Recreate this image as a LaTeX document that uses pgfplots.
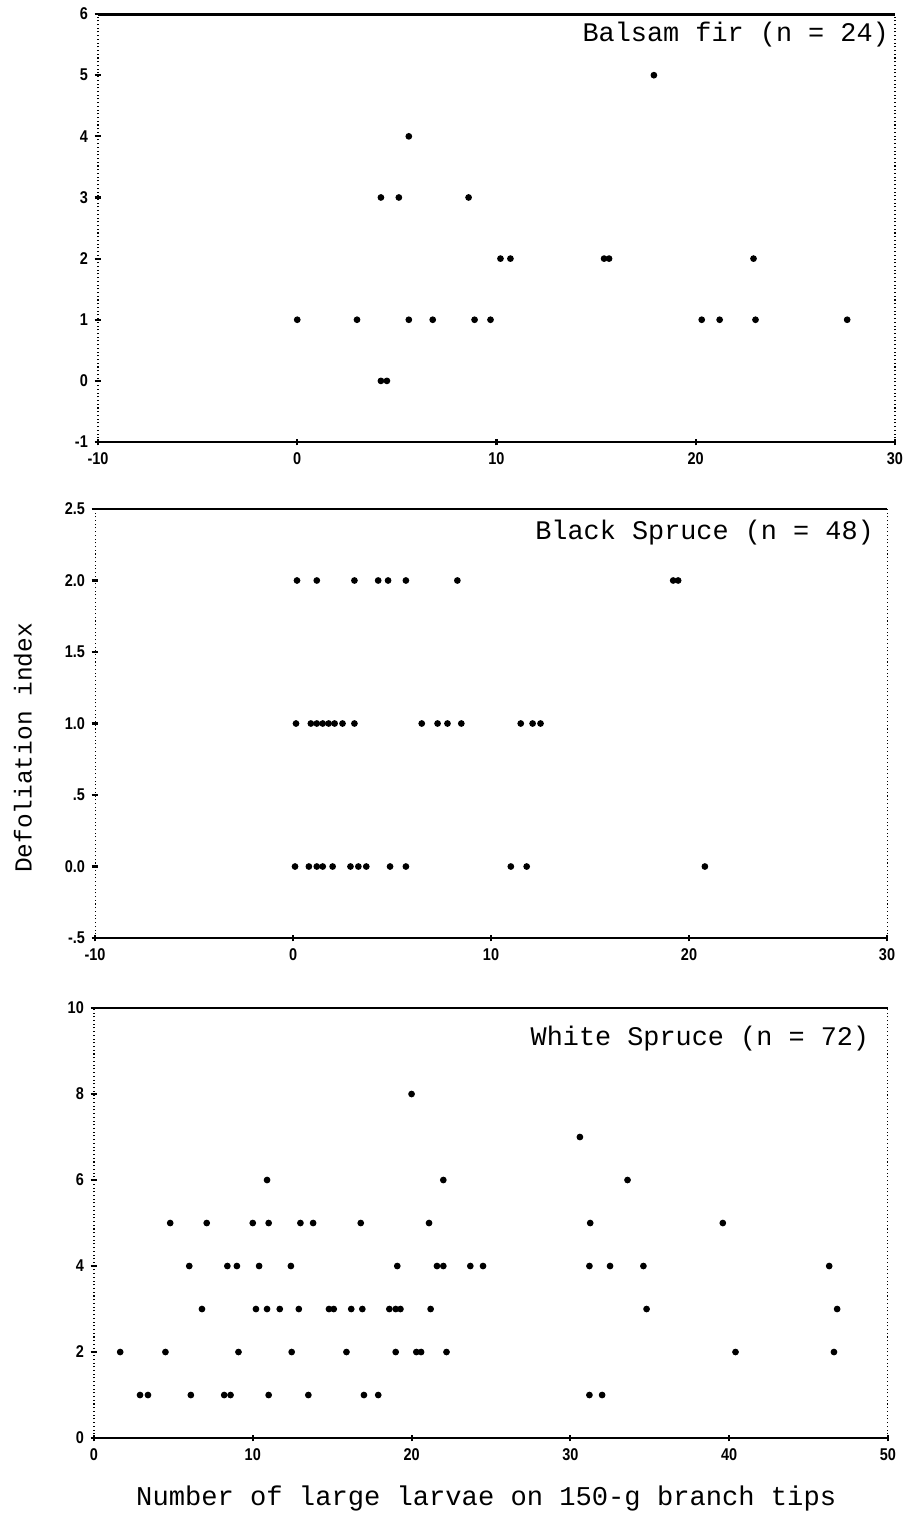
\documentclass[border=0pt]{standalone}
\usepackage{fontspec}
\setmainfont{Liberation Mono}
\newfontfamily\tickfont[FakeStretch=0.85]{Liberation Sans}
\usepackage{pgfplots}
\pgfplotsset{compat=1.18}

\pgfplotsset{
  panel/.style={
    scale only axis,
    anchor=south west,
    separate axis lines,
    x axis line style={line width=1.1pt},
    y axis line style={line width=0.4pt, densely dotted},
    tick pos=left,
    tick align=center,
    major tick length=0.09cm,
    every tick/.style={black, line width=0.8pt},
    tick label style={font=\tickfont\bfseries\fontsize{6.4}{7}\selectfont},
    xticklabel style={yshift=1pt},
    yticklabel style={xshift=1pt},
    /pgf/number format/assume math mode=true,
    clip=false,
  },
  pts/.style={only marks, mark=*, mark size=1.05pt, black},
}
\tikzset{ttl/.style={anchor=east, inner sep=0pt, font=\fontsize{10.1}{12}\selectfont}}

\begin{document}
\begin{tikzpicture}
\path[use as bounding box] (0,0) rectangle (12cm,20.009cm);

% Balsam fir
\begin{axis}[panel,
  at={(1.295cm,14.167cm)}, width=10.533cm, height=5.656cm,
  xmin=-10, xmax=30, ymin=-1, ymax=6,
  xtick={-10,0,10,20,30}, ytick={-1,0,...,6},
]
\addplot[pts] table {
x y
17.9 5
5.6 4
4.2 3
5.1 3
8.6 3
10.2 2
10.7 2
15.4 2
15.65 2
22.9 2
0.0 1
3.0 1
5.6 1
6.8 1
8.9 1
9.7 1
20.3 1
21.2 1
23.0 1
27.6 1
4.2 0
4.5 0
};
\node[ttl] at (rel axis cs:0.993,0.951) {Balsam fir (n = 24)};
\end{axis}

% Black spruce
\begin{axis}[panel,
  at={(1.256cm,7.612cm)}, width=10.467cm, height=5.67cm,
  xmin=-10, xmax=30, ymin=-0.5, ymax=2.5,
  xtick={-10,0,10,20,30},
  ytick={-0.5,0,0.5,1,1.5,2,2.5},
  yticklabels={-.5,0.0,.5,1.0,1.5,2.0,2.5},
  ylabel={Defoliation index},
  ylabel style={at={(axis description cs:-0.091,0.443)}, anchor=center,
    font=\fontsize{9.2}{11}\selectfont},
]
\addplot[pts] table {
x y
0.2 2
1.2 2
3.1 2
4.3 2
4.8 2
5.7 2
8.3 2
19.2 2
19.45 2
0.15 1
0.9 1
1.2 1
1.5 1
1.8 1
2.1 1
2.5 1
3.1 1
6.5 1
7.3 1
7.8 1
8.5 1
11.5 1
12.1 1
12.5 1
0.1 0
0.8 0
1.2 0
1.5 0
2.0 0
2.9 0
3.3 0
3.7 0
4.9 0
5.7 0
11.0 0
11.8 0
20.8 0
};
\node[ttl] at (rel axis cs:0.984,0.944) {Black Spruce (n = 48)};
\end{axis}

% White spruce
\begin{axis}[panel,
  at={(1.242cm,1.004cm)}, width=10.493cm, height=5.683cm,
  xmin=0, xmax=50, ymin=0, ymax=10,
  xtick={0,10,...,50}, ytick={0,2,...,10},
  xlabel={Number of large larvae on 150-g branch tips},
  xlabel style={at={(axis description cs:0.494,-0.14)}, anchor=center,
    font=\fontsize{10.2}{12}\selectfont},
]
\addplot[pts] table {
x y
20.0 8
30.6 7
10.9 6
22.0 6
33.6 6
4.8 5
7.1 5
10.0 5
11.0 5
13.0 5
13.8 5
16.8 5
21.1 5
31.25 5
39.6 5
6.0 4
8.4 4
9.0 4
10.4 4
12.4 4
19.1 4
21.6 4
22.0 4
23.7 4
24.5 4
31.2 4
32.5 4
34.6 4
46.3 4
6.8 3
10.2 3
10.9 3
11.7 3
12.9 3
14.8 3
15.1 3
16.2 3
16.9 3
18.6 3
19.0 3
19.3 3
21.2 3
34.8 3
46.8 3
1.65 2
4.5 2
9.1 2
12.45 2
15.9 2
19.0 2
20.3 2
20.6 2
22.2 2
40.4 2
46.6 2
2.9 1
3.4 1
6.1 1
8.2 1
8.6 1
11.0 1
13.5 1
17.0 1
17.9 1
31.2 1
32.0 1
};
\node[ttl] at (rel axis cs:0.977,0.93) {White Spruce (n = 72)};
\end{axis}
\end{tikzpicture}
\end{document}
